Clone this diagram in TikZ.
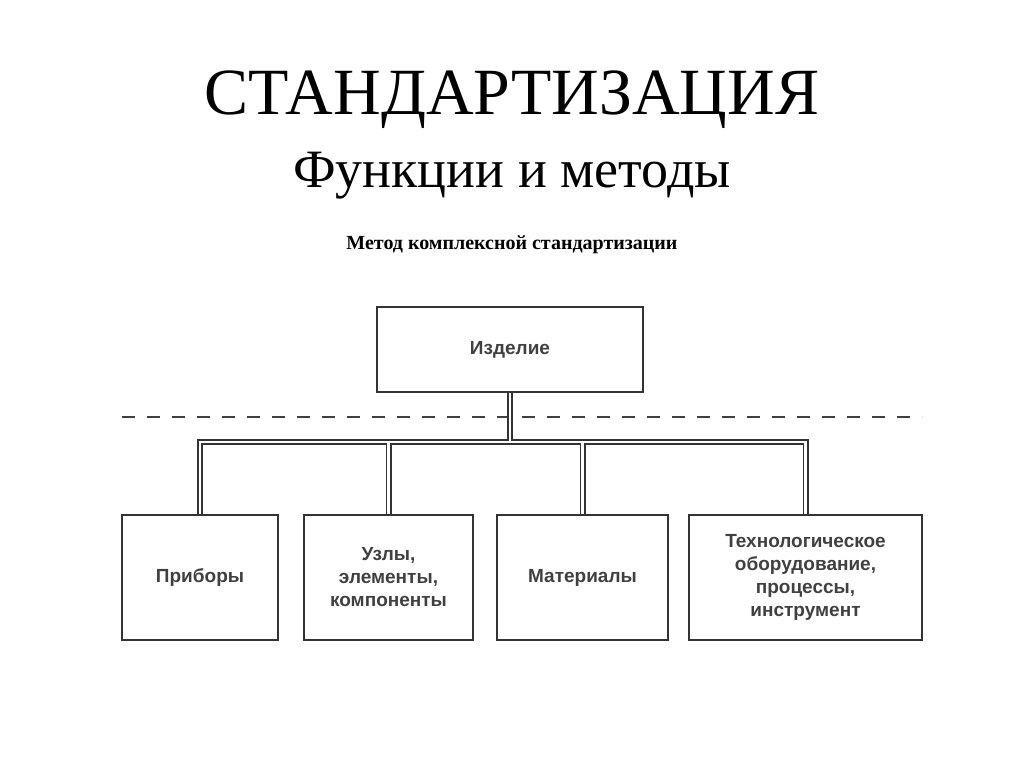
\documentclass[tikz,border=0pt]{standalone}
\usepackage{fontspec}
\setmainfont{Liberation Serif}
\newfontfamily\boxfont{Liberation Sans}
\begin{document}
\begin{tikzpicture}[x=1pt,y=-1pt,
  bx/.style={draw=black!80,line width=2.2pt,align=center,font=\boxfont\bfseries\fontsize{19}{23}\selectfont,text=black!75,inner sep=0pt},
  outer/.style={draw=black!80,line width=6pt},
  inner/.style={draw=white,line width=2.4pt}]
\useasboundingbox (0,0) rectangle (1024,768);
\node (t1) at (512,100) {\fontsize{66}{70}\selectfont СТАНДАРТИЗАЦИЯ};
\node (t2) at (512,176) {\fontsize{54}{58}\selectfont Функции и методы};
\node (t3) at (512,245) {\bfseries\fontsize{20}{24}\selectfont Метод комплексной стандартизации};
\node[bx,minimum width=266pt,minimum height=85pt] (iz) at (510,349.5) {Изделие};
\node[bx,minimum width=156pt,minimum height=125pt] (p) at (200,577.5) {Приборы};
\node[bx,minimum width=169pt,minimum height=125pt] (u) at (388.5,577.5) {Узлы,\\элементы,\\компоненты};
\node[bx,minimum width=171pt,minimum height=125pt] (m) at (582.5,577.5) {Материалы};
\node[bx,minimum width=233pt,minimum height=125pt] (te) at (805.5,577.5) {Технологическое\\оборудование,\\процессы,\\инструмент};
\coordinate (dl) at (122,417); \coordinate (dr) at (922,417);
\draw[black!75,line width=2.2pt,dash pattern=on 13pt off 12pt] (dl) -- (dr);
\coordinate (j) at (510,442);
\foreach \s in {outer,inner}{
  \draw[\s] (iz.south) -- (j);
  \draw[\s] (p.north) -- (p.north |- j) -- (te.north |- j) -- (te.north);
  \draw[\s] (u.north) -- (u.north |- j);
  \draw[\s] (m.north) -- (m.north |- j);
}
\end{tikzpicture}
\end{document}
